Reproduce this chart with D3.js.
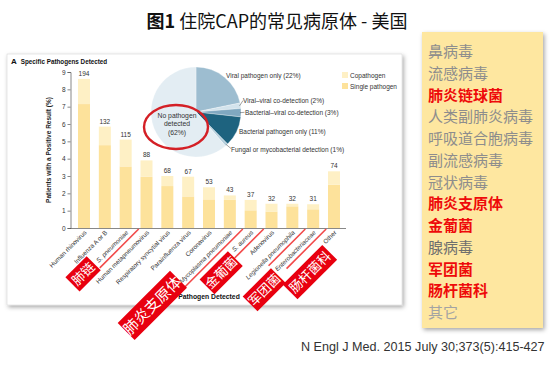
<!DOCTYPE html>
<html><head><meta charset="utf-8">
<script src="https://cdn.jsdelivr.net/npm/d3@7/dist/d3.min.js"></script>
<style>
html,body{margin:0;padding:0;background:#fff;}
svg{display:block;}
</style></head>
<body>
<svg id="c" width="557" height="368"></svg>
<script>
// ---------------- DATA ----------------
const categories = ["Human rhinovirus","Influenza A or B","S. pneumoniae","Human metapneumovirus","Respiratory syncytial virus","Parainfluenza virus","Coronavirus","Mycoplasma pneumoniae","S. aureus","Adenovirus","Legionella pneumophila","Enterobacteriaceae","Other"];
const italicCats = ["S. pneumoniae","Mycoplasma pneumoniae","S. aureus","Legionella pneumophila","Enterobacteriaceae"];
const counts = [194,132,115,88,68,67,53,43,37,32,32,31,74];
const totalPct = [8.6,5.85,5.1,3.9,3.0,2.96,2.35,1.88,1.62,1.4,1.4,1.37,3.27];
const singlePct = [7.15,4.78,3.55,2.96,2.42,1.82,1.65,1.62,1.02,0.95,1.25,1.08,2.5];
const yTicks = [0,1,2,3,4,5,6,7,8,9];
const seriesNames = ["Copathogen","Single pathogen"];

const pieNames = ["Viral pathogen only (22%)","Viral\u2013viral co-detection (2%)","Bacterial\u2013viral co-detection (3%)","Bacterial pathogen only (11%)","Fungal or mycobacterial detection (1%)","No pathogen detected (62%)"];
const pieValues = [22,2,3,11,1,62];

const listItems = ["鼻病毒","流感病毒","肺炎链球菌","人类副肺炎病毒","呼吸道合胞病毒","副流感病毒","冠状病毒","肺炎支原体","金葡菌","腺病毒","军团菌","肠杆菌科","其它"];
const listHighlight = ["肺炎链球菌","肺炎支原体","金葡菌","军团菌","肠杆菌科"];

const annotCats = ["S. pneumoniae","Mycoplasma pneumoniae","S. aureus","Legionella pneumophila","Enterobacteriaceae"];
const annotTexts = ["肺链","肺炎支原体","金葡菌","军团菌","肠杆菌科"];

// ---------------- STYLE / LAYOUT ----------------
const svg = d3.select("#c");
const defs = svg.append("defs");
const f = defs.append("filter").attr("id","sh").attr("x","-10%").attr("y","-10%").attr("width","125%").attr("height","125%");
f.append("feDropShadow").attr("dx",1.5).attr("dy",2).attr("stdDeviation",2).attr("flood-color","#000").attr("flood-opacity",0.35);

const sans = "'Liberation Sans', Arial, sans-serif";
const cjk = "'Noto Sans CJK SC', 'Liberation Sans', sans-serif";

// Title
svg.append("text").attr("x",277).attr("y",28).attr("text-anchor","middle")
  .style("font-family",cjk).style("font-size","18px").attr("fill","#111")
  .call(t=>{t.append("tspan").attr("font-weight","bold").text("图1");
            t.append("tspan").text(" 住院CAP的常见病原体 - 美国");});

// Citation
svg.append("text").attr("x",301).attr("y",351).style("font-family","'Liberation Sans', Arial, sans-serif")
  .style("font-size","12.6px").attr("fill","#333").text("N Engl J Med. 2015 July 30;373(5):415-427");

// Right list panel
svg.append("rect").attr("x",422).attr("y",32).attr("width",121).attr("height",296)
  .attr("fill","#fee7a0").attr("filter","url(#sh)");
const listY = d3.scalePoint().domain(listItems).range([57,318]);
svg.append("g").selectAll("text").data(listItems).join("text")
  .attr("x",428).attr("y",d=>listY(d))
  .style("font-family",cjk).style("font-size","15px")
  .attr("font-weight",d=>listHighlight.includes(d)?"bold":"normal")
  .attr("fill",d=>listHighlight.includes(d)?"#ee0a0a":(d==="腺病毒"?"#6e6e6e":(d==="其它"?"#a3a3a3":"#8d8d8d")))
  .text(d=>d);

// Chart panel
svg.append("rect").attr("x",7).attr("y",54).attr("width",395).attr("height",251)
  .attr("fill","#fff").attr("stroke","#d0d0d0").attr("stroke-width",0.5).attr("filter","url(#sh)");

svg.append("text").attr("x",11).attr("y",64).style("font-family",sans).attr("fill","#111")
  .call(t=>{t.append("tspan").style("font-size","8px").attr("font-weight","bold").text("A");
            t.append("tspan").attr("dx",4).style("font-size","6.3px").attr("font-weight","bold").text("Specific Pathogens Detected");});

// scales
const x = d3.scaleBand().domain(categories).range([72,346]).paddingInner(0.424).paddingOuter(0.288);
const y = d3.scaleLinear().domain([0,9]).range([228,72]);

const g = svg.append("g");
// y axis
const yAxis = d3.axisLeft(y).tickValues(yTicks).tickSize(3).tickPadding(2).tickFormat(d3.format("d"));
const ya = g.append("g").attr("transform","translate(70.5,0)").call(yAxis);
ya.select(".domain").attr("stroke","#555").attr("stroke-width",0.7);
ya.selectAll(".tick line").attr("stroke","#555").attr("stroke-width",0.7);
ya.selectAll("text").style("font-family",sans).style("font-size","6.5px").attr("fill","#333");

// bars
const colSingle = "#fde29b", colCo = "#fef0c5";
g.append("g").selectAll("rect.s").data(categories).join("rect")
  .attr("x",d=>x(d)).attr("width",x.bandwidth())
  .attr("y",(d,i)=>y(singlePct[i])).attr("height",(d,i)=>y(0)-y(singlePct[i])).attr("fill",colSingle);
g.append("g").selectAll("rect.c").data(categories).join("rect")
  .attr("x",d=>x(d)).attr("width",x.bandwidth())
  .attr("y",(d,i)=>y(totalPct[i])).attr("height",(d,i)=>y(singlePct[i])-y(totalPct[i])).attr("fill",colCo);
g.append("g").selectAll("text").data(categories).join("text")
  .attr("x",d=>x(d)+x.bandwidth()/2).attr("y",(d,i)=>y(totalPct[i])-3)
  .attr("text-anchor","middle").style("font-family",sans).style("font-size","6.5px").attr("fill","#333")
  .text((d,i)=>counts[i]);

// x axis
const xAxis = d3.axisBottom(x).tickSize(0).tickFormat("");
const xa = g.append("g").attr("transform","translate(0,228.5)").call(xAxis);
xa.select(".domain").attr("stroke","#555").attr("stroke-width",0.7).attr("d","M70,0H346");
g.append("g").selectAll("text").data(categories).join("text")
  .attr("transform",d=>`translate(${x(d)+x.bandwidth()/2+3},${233}) rotate(-45)`)
  .attr("text-anchor","end").style("font-family",sans).style("font-size","6.3px").attr("fill","#333")
  .attr("font-style",d=>italicCats.includes(d)?"italic":"normal").text(d=>d);

svg.append("text").attr("transform","translate(51,150) rotate(-90)").attr("text-anchor","middle")
  .style("font-family",sans).style("font-size","6.5px").attr("font-weight","bold").attr("fill","#222")
  .text("Patients with a Positive Result (%)");
svg.append("text").attr("x",209).attr("y",299).attr("text-anchor","middle")
  .style("font-family",sans).style("font-size","6.8px").attr("font-weight","bold").attr("fill","#111")
  .text("Pathogen Detected");

// legend
const leg = svg.append("g");
seriesNames.forEach((s,i)=>{
  leg.append("rect").attr("x",342).attr("y",72+i*11).attr("width",6).attr("height",6).attr("fill",i===0?colCo:colSingle);
  leg.append("text").attr("x",350).attr("y",78+i*11).style("font-family",sans).style("font-size","6.5px").attr("fill","#333").text(s);
});

// pie
const pcx=196, pcy=112, pr=45;
const pieCols = ["#9dbdd0","#d3e3ec","#80a8c0","#1e637f","#b5cfdd","#e3edf3"];
const arcs = d3.pie().sort(null)(pieValues);
const arc = d3.arc().innerRadius(0).outerRadius(pr);
const pg = svg.append("g").attr("transform",`translate(${pcx},${pcy})`);
pg.selectAll("path").data(arcs).join("path").attr("d",arc).attr("fill",(d,i)=>pieCols[i]).attr("stroke","#fff").attr("stroke-width",0.3);

const pieLabelPos = [[226,77.5],[243,102.5],[245,114.5],[239,133.5],[231,151.5]];
const pl = svg.append("g").style("font-family",sans).style("font-size","6.5px").attr("fill","#333");
pieNames.slice(0,5).forEach((n,i)=>{
  pl.append("text").attr("x",pieLabelPos[i][0]).attr("y",pieLabelPos[i][1]).text(n);
});
// leaders
[[1,[243,100.5]],[2,[244.5,112.3]],[4,[231,148.5]]].forEach(([i,p])=>{
  const a=(arcs[i].startAngle+arcs[i].endAngle)/2;
  pl.append("line").attr("x1",pcx+(pr-1)*Math.sin(a)).attr("y1",pcy-(pr-1)*Math.cos(a))
    .attr("x2",p[0]).attr("y2",p[1]).attr("stroke","#444").attr("stroke-width",0.5);
});
const np = svg.append("text").attr("text-anchor","middle").style("font-family",sans).style("font-size","6.8px").attr("fill","#333");
["No pathogen","detected","(62%)"].forEach((t,i)=>np.append("tspan").attr("x",177).attr("y",117.5+i*8.5).text(t));
svg.append("ellipse").attr("cx",176).attr("cy",127).attr("rx",32).attr("ry",22)
  .attr("fill","none").attr("stroke","#d42026").attr("stroke-width",2.4);

// red annotations
const annotGeom = [ // lineLen, along, across, w, h, font
  [55,71,-7.6,30,20,13],
  [82,118,-10,74,24,15],
  [41,61,0.9,40,21,13],
  [52,72,13.9,40,21,13],
  [56,42,19,56,21,13]
];
const ag = svg.append("g");
const s2 = Math.SQRT1_2;
annotCats.forEach((c,i)=>{
  const [L,a,b,w,h,fs]=annotGeom[i];
  const x0 = x(c)+x.bandwidth()/2+13, y0 = 229;
  ag.append("line").attr("x1",x0).attr("y1",y0).attr("x2",x0-L*s2).attr("y2",y0+L*s2)
    .attr("stroke","#f24a4a").attr("stroke-width",1.6);
  const cx = x0 - a*s2 + b*s2, cy = y0 + a*s2 + b*s2;
  const bg = ag.append("g").attr("transform",`translate(${cx},${cy}) rotate(-45)`);
  bg.append("rect").attr("x",-w/2).attr("y",-h/2).attr("width",w).attr("height",h).attr("fill","#e8000f");
  bg.append("text").attr("text-anchor","middle").attr("dy","0.36em").style("font-family",cjk)
    .style("font-size",fs+"px").attr("fill","#fff").text(annotTexts[i]);
});
</script>
</body></html>
